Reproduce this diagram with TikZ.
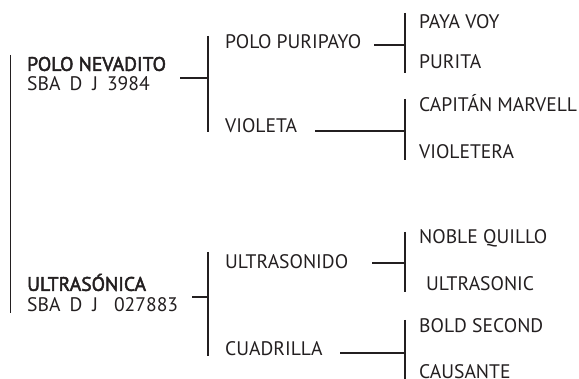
\documentclass[tikz,border=0pt]{standalone}
\usepackage{fontspec}
\setmainfont{PT Sans}
\newfontfamily\semib{PT Sans}[FakeBold=2.4]
\definecolor{ink}{HTML}{231F20}
\begin{document}
\begin{tikzpicture}[x=1pt,y=-1pt,
  lbl/.style={anchor=west,inner sep=0pt,text height=13.7pt,text depth=0pt,font=\fontsize{19.6}{22}\selectfont,text=ink},
  boldlbl/.style={lbl,font=\fontsize{19.6}{22}\selectfont\semib},
  bar/.style={draw=ink,line width=1.4pt}]
\useasboundingbox (0,0) rectangle (579,379);
% texts
\node[boldlbl] (pn) at (27,64) {POLO NEVADITO};
\node[lbl] (pnr) at (27,83.5) {SBA\hspace{9pt}D\hspace{10pt}J\hspace{9pt}3984};
\node[lbl] (pp) at (225,42) {POLO PURIPAYO};
\node[lbl] (vi) at (225,126) {VIOLETA};
\node[lbl] (pv) at (419,21.5) {PAYA VOY};
\node[lbl] (pu) at (419,62) {PURITA};
\node[lbl] (cm) at (419,105) {CAPITÁN MARVELL};
\node[lbl] (vt) at (419,152) {VIOLETERA};
\node[boldlbl] (us) at (27,284) {ULTRASÓNICA};
\node[lbl] (usr) at (27,305) {SBA\hspace{9pt}D\hspace{10pt}J\hspace{16pt}027883};
\node[lbl] (ud) at (225,262) {ULTRASONIDO};
\node[lbl] (cu) at (225,349) {CUADRILLA};
\node[lbl] (nq) at (419,237) {NOBLE QUILLO};
\node[lbl] (uc) at (426,284) {ULTRASONIC};
\node[lbl] (bs) at (419,326) {BOLD SECOND};
\node[lbl] (ca) at (419,371.5) {CAUSANTE};
% bar coordinates
\coordinate (r0t) at (10.5,55);  \coordinate (r0b) at (10.5,313);
\coordinate (b1t) at (208,36);   \coordinate (b1b) at (208,132);
\coordinate (b2t) at (405,13);   \coordinate (b2b) at (405,73);
\coordinate (b3t) at (405,99);   \coordinate (b3b) at (405,160);
\coordinate (b4t) at (208,252);  \coordinate (b4b) at (208,356);
\coordinate (b5t) at (405,232);  \coordinate (b5b) at (405,292);
\coordinate (b6t) at (405,320);  \coordinate (b6b) at (405,379);
\coordinate (h1) at (180,78);
\coordinate (h2) at (374,45);
\coordinate (h3) at (315,131);
\coordinate (h4) at (192,297);
\coordinate (h5) at (372,263);
\coordinate (h6) at (340,353);
\draw[bar] (r0t) -- (r0b);
\draw[bar] (b1t) -- (b1b);
\draw[bar] (b2t) -- (b2b);
\draw[bar] (b3t) -- (b3b);
\draw[bar] (b4t) -- (b4b);
\draw[bar] (b5t) -- (b5b);
\draw[bar] (b6t) -- (b6b);
\draw[bar] (h1) -- (h1 -| b1t);
\draw[bar] (h2) -- (h2 -| b2t);
\draw[bar] (h3) -- (h3 -| b3t);
\draw[bar] (h4) -- (h4 -| b4t);
\draw[bar] (h5) -- (h5 -| b5t);
\draw[bar] (h6) -- (h6 -| b6t);
\end{tikzpicture}
\end{document}
